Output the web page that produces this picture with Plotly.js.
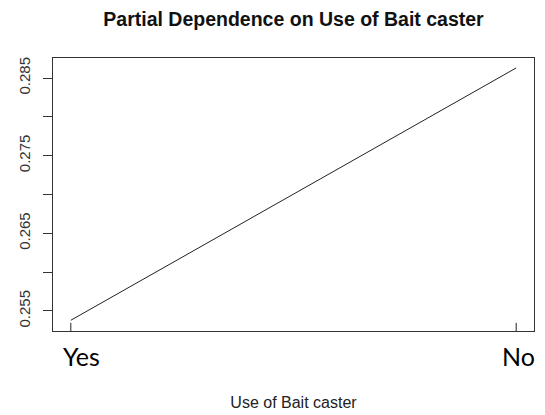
<!DOCTYPE html>
<html>
<head>
<meta charset="utf-8">
<script src="https://cdn.plot.ly/plotly-3.0.1.min.js"></script>
<style>html,body{margin:0;padding:0;background:#fff;}#chart{width:545px;height:415px;}</style>
</head>
<body>
<div id="chart"></div>
<script>
// Data
var categories = ["Yes", "No"];
var partialDependence = [0.2538, 0.2863];
var rugCategories = ["Yes", "No"];
var yTickValues = [0.255, 0.260, 0.265, 0.270, 0.275, 0.280, 0.285];
var yTickLabels = ["0.255", "", "0.265", "", "0.275", "", "0.285"];

var frame = "#333333";

var trace = {
  x: categories,
  y: partialDependence,
  type: "scatter",
  mode: "lines",
  line: {color: "#222222", width: 1},
  hoverinfo: "x+y"
};

var shapes = rugCategories.map(function (c) {
  return {type: "line", xref: "x", yref: "paper", x0: c, x1: c, y0: 0, y1: 0.03,
          line: {color: "#222222", width: 1}};
});

var annotations = [
  {x: categories[0], y: 0, xref: "x", yref: "paper", text: categories[0], showarrow: false,
   xanchor: "left", yanchor: "top", xshift: -10, yshift: -8,
   font: {family: "Lato, 'Open Sans', sans-serif", size: 25, color: "#000"}},
  {x: categories[1], y: 0, xref: "x", yref: "paper", text: categories[1], showarrow: false,
   xanchor: "right", yanchor: "top", xshift: 21, yshift: -8,
   font: {family: "Lato, 'Open Sans', sans-serif", size: 25, color: "#000"}}
];

var layout = {
  width: 545, height: 415,
  margin: {l: 53, r: 11, t: 58, b: 84, pad: 0},
  paper_bgcolor: "#fff", plot_bgcolor: "#fff",
  showlegend: false,
  font: {family: "'Liberation Sans', Arial, sans-serif", color: "#222"},
  title: {text: "<b>Partial Dependence on Use of Bait caster</b>",
          font: {size: 19.5, color: "#111"},
          x: 0.5, xanchor: "center", xref: "paper",
          y: 1 - 19 / 415, yref: "container", yanchor: "middle"},
  xaxis: {
    type: "category",
    categoryorder: "array", categoryarray: categories,
    range: [-0.04, 1.04],
    showgrid: false, zeroline: false,
    showline: true, mirror: true, linecolor: frame, linewidth: 1,
    showticklabels: false, ticks: "",
    title: {text: "Use of Bait caster", font: {size: 16, color: "#222"}, standoff: 65}
  },
  yaxis: {
    range: [0.25242, 0.28758],
    tickmode: "array", tickvals: yTickValues, ticktext: yTickLabels,
    tickangle: -90,
    ticks: "outside", ticklen: 9, tickcolor: frame, tickwidth: 1,
    tickfont: {size: 15, color: "#333"},
    ticklabelstandoff: 7,
    showgrid: false, zeroline: false,
    showline: true, mirror: true, linecolor: frame, linewidth: 1
  },
  shapes: shapes,
  annotations: annotations
};

Plotly.newPlot("chart", [trace], layout, {displayModeBar: false, staticPlot: true});
</script>
</body>
</html>
